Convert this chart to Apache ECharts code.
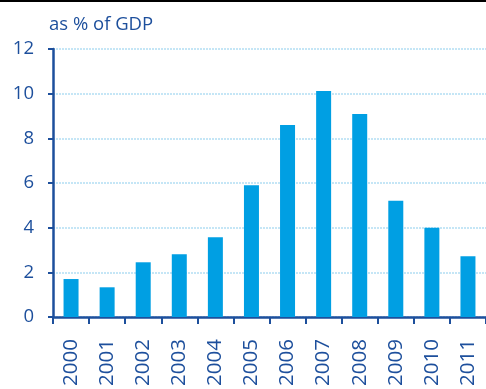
<!DOCTYPE html>
<html><head><meta charset="utf-8">
<script src="https://cdn.jsdelivr.net/npm/echarts@6/dist/echarts.min.js"></script>
<style>html,body{margin:0;padding:0;background:#fff}#c{width:486px;height:389px}</style>
</head><body><div id="c"></div>
<script>
const categories = ['2000','2001','2002','2003','2004','2005','2006','2007','2008','2009','2010','2011'];
const values = [1.7, 1.33, 2.45, 2.81, 3.57, 5.9, 8.6, 10.12, 9.09, 5.21, 4.0, 2.72];
const yTitle = 'as % of GDP';
const navy = '#1d4f9c';
const chart = echarts.init(document.getElementById('c'));
chart.setOption({
  animation: false,
  textStyle: {fontFamily: 'Open Sans'},
  graphic: [
    {type: 'rect', left: 0, top: 0, shape: {width: 486, height: 2}, style: {fill: '#000'}},
    {type: 'text', left: 49, top: 15, style: {text: yTitle, fill: navy, font: '500 18.5px "Open Sans"'}}
  ],
  grid: {left: 53, top: 49, width: 440, height: 268},
  xAxis: {
    type: 'category', data: categories,
    axisLine: {lineStyle: {color: navy, width: 2.5}},
    axisTick: {show: true, length: 7, lineStyle: {color: navy, width: 2}},
    axisLabel: {rotate: 90, color: navy, fontSize: 20.5, fontWeight: 500, margin: 22, fontFamily: 'Open Sans'}
  },
  yAxis: {
    type: 'value', min: 0, max: 12, interval: 2,
    axisLine: {show: true, lineStyle: {color: navy, width: 2.5}},
    axisTick: {show: true, length: 5, lineStyle: {color: navy, width: 2}},
    axisLabel: {color: navy, fontSize: 18.5, fontWeight: 500, margin: 19, fontFamily: 'Open Sans'},
    splitLine: {lineStyle: {color: '#c5e6f6', width: 2, type: [2, 1]}}
  },
  series: [{type: 'bar', data: values, barWidth: 15, itemStyle: {color: '#009fe3'}}]
});
</script></body></html>
